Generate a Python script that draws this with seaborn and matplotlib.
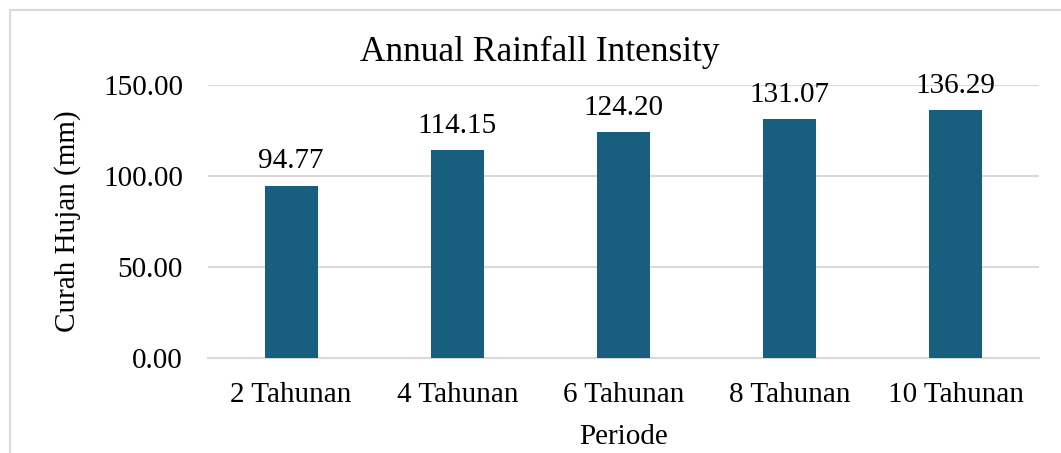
import matplotlib
matplotlib.use("Agg")
import matplotlib.pyplot as plt
from matplotlib.patches import Rectangle
import seaborn as sns
import pandas as pd

# Return periods and rainfall depths
periods = ["2 Tahunan", "4 Tahunan", "6 Tahunan", "8 Tahunan", "10 Tahunan"]
rainfall = [94.77, 114.15, 124.20, 131.07, 136.29]
y_ticks = [0, 50, 100, 150]

df = pd.DataFrame({"Periode": periods, "Curah": rainfall})

sns.set_theme(style="white")
plt.rcParams["font.family"] = ["Liberation Serif", "DejaVu Serif"]

W, H = 1061, 453
fig = plt.figure(figsize=(W / 100, H / 100), dpi=100)
ax = fig.add_axes([208 / W, 1 - 358 / H, (1039 - 208) / W, (358 - 85) / H])

bar_color = "#185F7F"
sns.barplot(data=df, x="Periode", y="Curah", color=bar_color, width=0.32,
            saturation=1, linewidth=0, ax=ax, zorder=3)

grid_c = "#D9D9D9"
fs = 21
ax.set_ylim(0, 150)
ax.set_yticks(y_ticks)
ax.set_yticklabels([f"{v:.2f}" for v in y_ticks])
ax.yaxis.grid(True, color=grid_c, linewidth=1.5, zorder=0)
ax.set_axisbelow(True)
for s in ["top", "right", "left"]:
    ax.spines[s].set_visible(False)
ax.spines["bottom"].set_color(grid_c)
ax.spines["bottom"].set_linewidth(1.5)
ax.tick_params(axis="both", length=0, labelsize=fs, colors="black")
ax.tick_params(axis="y", pad=18)
ax.tick_params(axis="x", pad=17)

for i, v in enumerate(rainfall):
    ax.annotate(f"{v:.2f}", (i, v), xytext=(0, 8), textcoords="offset points",
                ha="center", va="bottom", fontsize=fs, color="black")

ax.set_xlabel("Periode", fontsize=fs, color="black", labelpad=12)
ax.set_ylabel("Curah Hujan (mm)", fontsize=fs, color="black", labelpad=16)
fig.text(540 / W, 1 - 52 / H, "Annual Rainfall Intensity", ha="center",
         va="center", fontsize=25.5, color="black")

# Light frame around the chart
fig.patches.append(Rectangle((10 / W, -0.1), 1.2, 1 - 10 / H + 0.1,
                             transform=fig.transFigure, fill=False,
                             edgecolor=grid_c, linewidth=1.5))

fig.savefig("out.png", dpi=100, facecolor="white")
